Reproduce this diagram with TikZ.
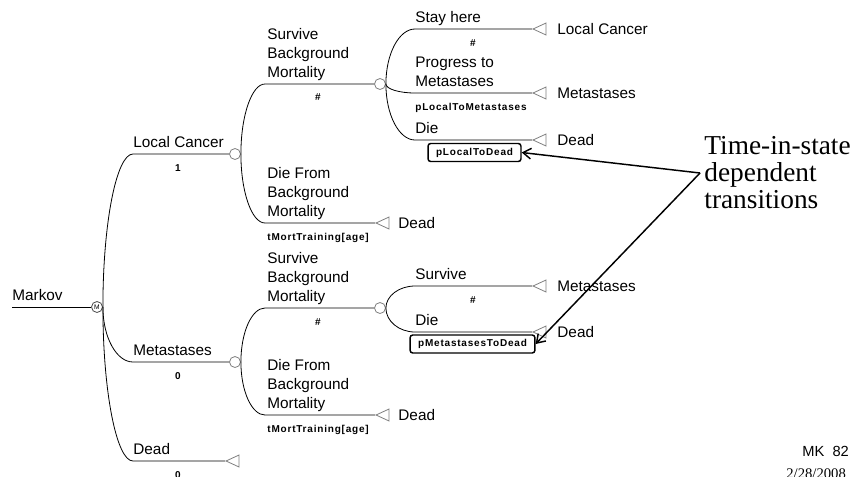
\documentclass[tikz,border=0pt]{standalone}
\usepackage{fontspec}
\setmainfont{Liberation Sans}
\newfontfamily\serfont{Liberation Serif}
\newfontfamily\valfont[LetterSpace=8]{Liberation Sans}
\usetikzlibrary{shapes.geometric,arrows.meta,positioning,calc}
\tikzset{
	chance/.style={circle,draw=gray,minimum size=8.25pt,inner sep=0pt},
	term/.style={isosceles triangle,shape border rotate=180,isosceles triangle stretches,draw=gray,minimum height=9.75pt,minimum width=9pt,inner sep=0pt,anchor=apex},
	branch/.style={to path={.. controls ($(\tikztostart)!0.55!(\tikztostart|-\tikztotarget)$) and ($(\tikztotarget)!0.55!(\tikztostart|-\tikztotarget)$) .. (\tikztotarget)}},
	lbl/.style={anchor=base west,inner sep=0pt,align=left,font=\fontsize{11.5}{14.25}\selectfont},
	endlbl/.style={anchor=west,inner sep=0pt,font=\fontsize{11.5}{14.25}\selectfont},
	val/.style={anchor=base,inner sep=0pt,font=\valfont\bfseries\fontsize{7.5}{8}\selectfont},
	pbox/.style={draw,rounded corners=2pt,line width=1.1pt,inner xsep=6pt,inner ysep=0pt,minimum height=13.5pt,font=\valfont\bfseries\fontsize{7.5}{8}\selectfont},
	note/.style={anchor=west,inner sep=0pt,align=left,font=\serfont\fontsize{20.5}{20.25}\selectfont}
}
\begin{document}
\begin{tikzpicture}[x=0.75pt,y=-0.75pt,line width=0.6pt,>={Straight Barb[length=6pt,width=8pt]}]
	\useasboundingbox (0,0) rectangle (856,476);
	\coordinate (root) at (12,307);
	\node[chance,draw=black!70,font=\fontsize{5}{5}\selectfont] (mk) at (97,307) {M};
	\draw (root) -- (mk);
	\node[lbl] at (12,300) {Markov};

	\coordinate (b-lc) at (133,154);
	\coordinate (b-mt) at (133,362);
	\coordinate (b-dd) at (133,461);
	\node[chance] (lc) at (235,154) {};
	\node[chance] (mt) at (235,362) {};
	\node[term] (dd) at (225,461) {};
	\draw (mk.east) to[branch] (b-lc) -- (lc);
	\draw (mk.east) to[branch] (b-mt) -- (mt);
	\draw (mk.east) to[branch] (b-dd) -- (dd.apex);
	\node[lbl] at (133,147) {Local Cancer};
	\node[val] at (178,171) {1};
	\node[lbl] at (133,355) {Metastases};
	\node[val] at (178,379) {0};
	\node[lbl] at (133,454) {Dead};
	\node[val] at (178,478) {0};

	\coordinate (b-s1) at (265,84);
	\coordinate (b-d1) at (265,223);
	\node[chance] (s1) at (380,84) {};
	\node[term] (d1) at (375,223) {};
	\draw (lc.east) to[branch] (b-s1) -- (s1);
	\draw (lc.east) to[branch] (b-d1) -- (d1.apex);
	\node[lbl] at (267,77) {Survive\\Background\\Mortality};
	\node[val] at (318,100) {\#};
	\node[lbl] at (267,216) {Die From\\Background\\Mortality};
	\node[val,anchor=base west] at (267,240) {tMortTraining[age]};
	\node[endlbl] at (398,223) {Dead};

	\coordinate (b-sh) at (415,29);
	\coordinate (b-pm) at (415,93);
	\coordinate (b-di) at (415,140);
	\node[term] (t-sh) at (532,29) {};
	\node[term] (t-pm) at (532,93) {};
	\node[term] (t-di) at (532,140) {};
	\draw (s1.east) to[branch] (b-sh) -- (t-sh.apex);
	\draw (s1.east) to[branch] (b-pm) -- (t-pm.apex);
	\draw (s1.east) to[branch] (b-di) -- (t-di.apex);
	\node[lbl] at (415,22) {Stay here};
	\node[val] at (473,46) {\#};
	\node[lbl] at (415,86) {Progress to\\Metastases};
	\node[val,anchor=base west] at (415,110) {pLocalToMetastases};
	\node[lbl] at (415,133) {Die};
	\node[pbox] (box1) at (474.5,152.5) {pLocalToDead};
	\node[endlbl] at (557,29) {Local Cancer};
	\node[endlbl] at (557,93) {Metastases};
	\node[endlbl] at (557,140) {Dead};

	\coordinate (b-s2) at (265,308);
	\coordinate (b-d2) at (265,415);
	\node[chance] (s2) at (380,308) {};
	\node[term] (d2) at (375,415) {};
	\draw (mt.east) to[branch] (b-s2) -- (s2);
	\draw (mt.east) to[branch] (b-d2) -- (d2.apex);
	\node[lbl] at (267,301) {Survive\\Background\\Mortality};
	\node[val] at (318,325) {\#};
	\node[lbl] at (267,408) {Die From\\Background\\Mortality};
	\node[val,anchor=base west] at (267,432) {tMortTraining[age]};
	\node[endlbl] at (398,415) {Dead};

	\coordinate (b-sv) at (415,286);
	\coordinate (b-dm) at (415,332);
	\node[term] (t-sv) at (532,286) {};
	\node[term] (t-dm) at (532,332) {};
	\draw (s2.east) to[branch] (b-sv) -- (t-sv.apex);
	\draw (s2.east) to[branch] (b-dm) -- (t-dm.apex);
	\node[lbl] at (415,279) {Survive};
	\node[val] at (473,303) {\#};
	\node[lbl] at (415,325) {Die};
	\node[pbox] (box2) at (472.5,344) {pMetastasesToDead};
	\node[endlbl] at (557,286) {Metastases};
	\node[endlbl] at (557,332) {Dead};

	\coordinate (apex) at (700,173);
	\node[note] (note) at (704,173) {Time-in-state\\dependent\\transitions};
	\draw[->,line width=1.1pt] (apex) -- (box1.east);
	\draw[->,line width=1.1pt] (apex) -- (box2.east);

	\node[anchor=base west,inner sep=0pt,font=\fontsize{11}{11}\selectfont] (mk82) at (802,456) {MK\ \ 82};
	\node[anchor=base west,inner sep=0pt,font=\serfont\fontsize{11}{11}\selectfont] (date) at (786,478) {2/28/2008};
\end{tikzpicture}
\end{document}
